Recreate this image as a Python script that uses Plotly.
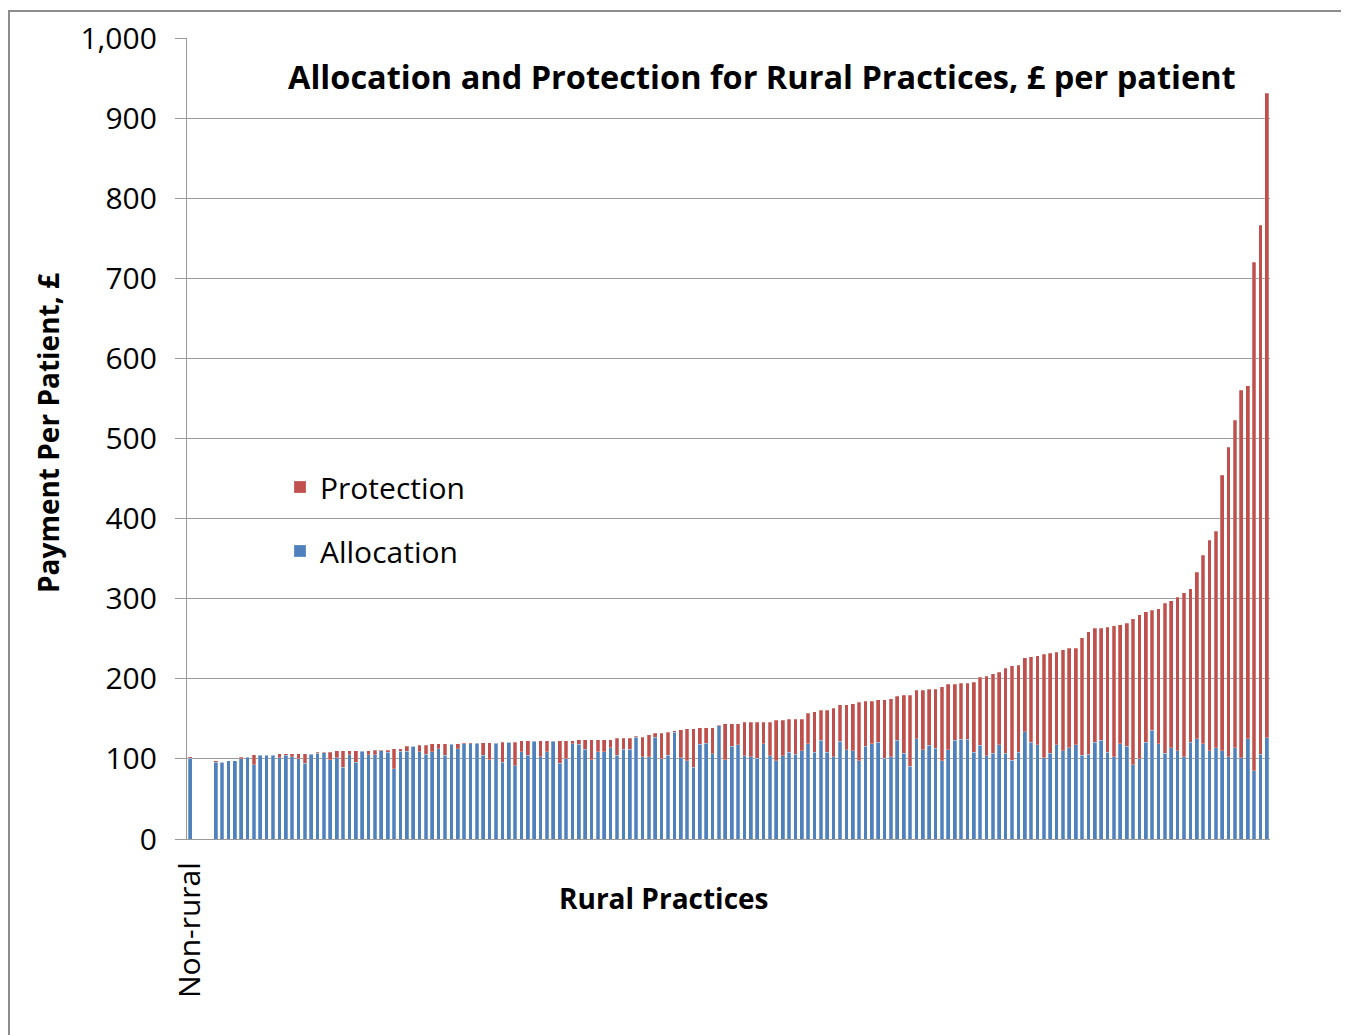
import plotly.graph_objects as go

# ---- data ----
x_tick_labels = ["Non-rural"]

nonrural_allocation = [101]
nonrural_protection = [2]
n_blank = 3  # empty category slots between Non-rural and the rural practices

rural_allocation = [
    96, 96, 97.5, 97.5, 100, 102, 92.5, 104.6, 104.6, 104.6,
    101.7, 104.6, 103, 100, 94.6, 106, 107, 107.5, 99, 101.7,
    89.5, 105, 96, 109.6, 105, 105, 110, 108, 88, 109.6,
    109.6, 115.5, 109, 106, 109, 112.5, 104.6, 118.6, 112.5, 119,
    119, 119.6, 104.6, 99, 119.6, 96, 120.6, 91.6, 109, 104.6,
    122.2, 103, 109, 122.2, 94.6, 100, 119, 118, 112, 99,
    109, 109, 114, 104.6, 112, 112, 127, 103, 103, 127,
    100, 104.6, 133.5, 101.7, 97.5, 89.5, 118, 119.7, 106.7, 141.5,
    99, 116, 117.7, 104, 102.7, 101, 119, 104, 98, 104,
    108.5, 105.6, 110, 119, 108.5, 123.5, 108.5, 102.7, 121.8, 111.4,
    110, 98, 116, 119, 120.6, 101, 102.7, 123.5, 106.9, 90.6,
    125, 111.4, 117, 113, 98, 111.4, 123.5, 124.7, 124.7, 108.5,
    117, 104, 106.9, 117.7, 107.3, 98.5, 108.6, 133.6, 120.7, 117.7,
    101.5, 107.3, 117.7, 110, 114, 117.7, 104.4, 106, 120.7, 123.6,
    108.6, 102.7, 119, 116, 92.7, 100.2, 120.7, 135.7, 119, 107.3,
    114, 110, 102.7, 120.7, 125.3, 119, 110, 114, 110, 102.7,
    114, 101.5, 125.3, 85, 105.6, 126.5,
]

rural_protection = [
    1.5, 0, 0, 0, 2, 0.5, 12.5, 0.4, 0.4, 0.4,
    5, 2.1, 3.7, 6.7, 12.1, 0.7, 1, 0.5, 9, 8.3,
    20.5, 5, 14, 0.4, 5, 6, 1, 3, 24.5, 2.9,
    6.4, 0.5, 8, 11, 10, 6.5, 14.4, 0.4, 6.5, 1,
    1, 0.4, 15.4, 21, 0.4, 25, 0.4, 29.4, 13.6, 18,
    0.4, 19.6, 13.6, 0.4, 28, 22.6, 3.6, 6, 12, 25,
    15, 15, 10, 21.4, 14, 14, 1.5, 24, 27, 5,
    32, 28.9, 1.5, 34.7, 40.2, 48.2, 21, 19.3, 32.3, 0.5,
    45, 28, 26.3, 41.5, 42.8, 44.5, 26.5, 41.5, 50.4, 44.4,
    41.2, 44.1, 39.7, 38, 50.5, 37, 52, 60.7, 45.8, 56.2,
    59, 73, 56, 53, 53.2, 72.8, 72.3, 54.5, 72.7, 89,
    60.5, 74.1, 70, 74, 92, 81.6, 69.5, 69.9, 69.9, 87.5,
    85, 99, 99.1, 90.7, 105.7, 117.5, 108.4, 92.4, 106.9, 111.3,
    129, 124.4, 115.7, 126.3, 124, 120.3, 147, 153, 142.3, 139.4,
    155.7, 163.3, 148.6, 153.3, 182.3, 179.5, 163.3, 149.9, 168.3, 187.1,
    183.3, 192, 205, 191.6, 207.7, 235, 263, 270, 344, 386.3,
    409, 458.5, 440.7, 635, 660.4, 804.5,
]

y_tick_values = [0, 100, 200, 300, 400, 500, 600, 700, 800, 900, 1000]
y_tick_labels = ["0", "100", "200", "300", "400", "500", "600", "700", "800", "900", "1,000"]

# ---- build series ----
allocation = nonrural_allocation + [None] * n_blank + rural_allocation
protection = nonrural_protection + [None] * n_blank + rural_protection
x_pos = list(range(len(allocation)))

BLUE = "#4F81BD"
RED = "#C0504D"
FONT = "Open Sans"

fig = go.Figure()
fig.add_trace(go.Bar(
    x=x_pos, y=allocation, name="Allocation",
    legendgroup="a", legendrank=2,
    marker=dict(color=BLUE, line=dict(color="rgba(255,255,255,0.5)", width=0.5)),
))
fig.add_trace(go.Bar(
    x=x_pos, y=protection, name="Protection",
    legendgroup="p", legendrank=1,
    marker=dict(color=RED, line=dict(color="rgba(255,255,255,0.5)", width=0.5)),
))

# page is rendered with an 8px body margin
OFF = 8
W, H = 1341, 1027
PLOT_L, PLOT_R, PLOT_T, PLOT_B = 187, 1270, 38, 839   # page pixel coords of plot area
L = PLOT_L - OFF
R = W - (PLOT_R - OFF)
T = PLOT_T - OFF
B = H - (PLOT_B - OFF)


def px_to_paper_x(px):
    return (px - PLOT_L) / (PLOT_R - PLOT_L)


def px_to_paper_y(py):
    return (PLOT_B - py) / (PLOT_B - PLOT_T)


fig.update_layout(
    width=W, height=H,
    barmode="stack", bargap=0.42,
    paper_bgcolor="white", plot_bgcolor="white",
    margin=dict(l=L, r=R, t=T, b=B, autoexpand=False),
    font=dict(family=FONT, color="black"),
    showlegend=True,
    legend=dict(
        x=px_to_paper_x(280), y=px_to_paper_y(461), xanchor="left", yanchor="top",
        traceorder="grouped", tracegroupgap=22,
        font=dict(family=FONT, size=30, color="black"),
        bgcolor="rgba(0,0,0,0)",
    ),
    xaxis=dict(
        range=[-0.5, len(x_pos) - 0.5],
        tickmode="array", tickvals=[0], ticktext=x_tick_labels,
        tickangle=-90, ticks="", showgrid=False,
        showline=True, linecolor="#9a9a9a", linewidth=1.3,
        ticklabelstandoff=10,
        tickfont=dict(family=FONT, size=30, color="black"),
        zeroline=False,
    ),
    yaxis=dict(
        range=[0, 1000],
        tickmode="array", tickvals=y_tick_values, ticktext=y_tick_labels,
        ticks="outside", ticklen=11, tickcolor="#9a9a9a", tickwidth=1.3,
        showgrid=True, gridcolor="#9a9a9a", gridwidth=1.3,
        showline=True, linecolor="#9a9a9a", linewidth=1.3,
        zeroline=False,
        ticklabelstandoff=12,
        tickfont=dict(family=FONT, size=30, color="black"),
    ),
)

fig.add_annotation(
    text="<b>Allocation and Protection for Rural Practices, £ per patient</b>",
    x=px_to_paper_x(762), y=px_to_paper_y(76), xref="paper", yref="paper",
    xanchor="center", yanchor="middle", showarrow=False,
    font=dict(family=FONT, size=32.5, color="black"),
)
fig.add_annotation(
    text="<b>Payment Per Patient, £</b>",
    x=px_to_paper_x(48), y=px_to_paper_y(433), xref="paper", yref="paper",
    xanchor="center", yanchor="middle", showarrow=False, textangle=-90,
    font=dict(family=FONT, size=28, color="black"),
)
fig.add_annotation(
    text="<b>Rural Practices</b>",
    x=px_to_paper_x(664), y=px_to_paper_y(898), xref="paper", yref="paper",
    xanchor="center", yanchor="middle", showarrow=False,
    font=dict(family=FONT, size=28, color="black"),
)

# outer chart border
fig.add_shape(
    type="rect", xref="paper", yref="paper",
    x0=px_to_paper_x(9), x1=px_to_paper_x(1342),
    y0=px_to_paper_y(11), y1=px_to_paper_y(1060),
    line=dict(color="#8c8c8c", width=2), fillcolor="rgba(0,0,0,0)",
    layer="below",
)

fig.write_html("out.html")
